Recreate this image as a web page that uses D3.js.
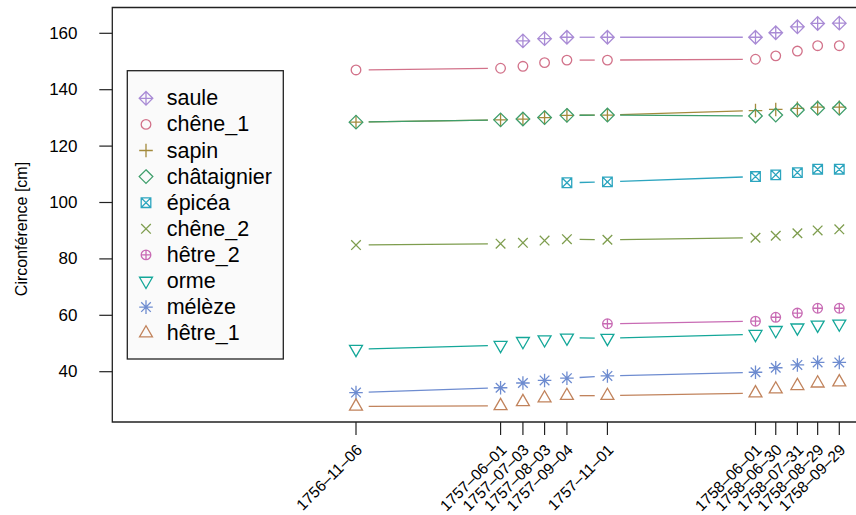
<!DOCTYPE html>
<html><head><meta charset="utf-8">
<script src="https://cdn.jsdelivr.net/npm/d3@7"></script>
<style>body{margin:0;background:#fff}svg{display:block}text{font-family:"Liberation Sans",Arial,sans-serif;fill:#000}</style>
</head><body>
<svg id="c" width="856" height="515"></svg>
<script>
const dates = ["1756-11-06","1757-06-01","1757-07-03","1757-08-03","1757-09-04","1757-11-01","1758-06-01","1758-06-30","1758-07-31","1758-08-29","1758-09-29"];
const seriesNames = ["saule","chêne_1","sapin","châtaignier","épicéa","chêne_2","hêtre_2","orme","mélèze","hêtre_1"];
const saule      = [null,null,157.3,158.1,158.6,158.6,158.6,160.2,162.3,163.5,163.6];
const chene1     = [147.0,147.6,148.3,149.6,150.5,150.5,150.8,152.0,153.7,155.6,155.6];
const sapin      = [128.5,129.3,129.6,130.1,130.9,131.0,132.6,133.0,133.4,133.8,133.8];
const chataignier= [128.5,129.3,129.6,130.1,130.9,131.0,130.7,131.0,132.8,133.4,133.4];
const epicea     = [null,null,null,null,107.0,107.3,109.2,109.8,110.6,111.8,111.8];
const chene2     = [84.9,85.4,85.7,86.5,87.0,86.8,87.5,88.2,89.1,90.1,90.5];
const hetre2     = [null,null,null,null,null,57.0,57.9,59.3,60.8,62.5,62.5];
const orme       = [48.0,49.4,50.8,51.4,52.0,51.9,53.3,54.7,55.6,56.6,57.0];
const meleze     = [32.6,34.3,36.0,36.9,37.7,38.5,39.8,41.4,42.4,43.3,43.3];
const hetre1     = [27.7,27.9,29.3,30.6,31.5,31.5,32.4,33.8,35.0,35.9,36.3];
const yTicks = [40,60,80,100,120,140,160];
const colors = ["#A98BD5","#D2728A","#A38A3C","#3E9E6B","#2CA5BF","#7E9D4E","#C86BB4","#14A799","#6E8CD0","#C1835C"];
const shapes = ["diamondplus","circle","plus","diamond","squarex","cross","circleplus","tridown","asterisk","triup"];
const values = [saule,chene1,sapin,chataignier,epicea,chene2,hetre2,orme,meleze,hetre1];

const svg = d3.select("#c");
const parse = d3.utcParse("%Y-%m-%d");
const D = dates.map(parse);
const x = d3.scaleUtc().domain([D[0], D[D.length-1]]).range([356, 839.3]);
const y = d3.scaleLinear().domain([40,160]).range([371.7, 33.3]);
const frame = {l:112.3, t:7.5, r:880, b:422};
const XC = 4.8, GAP = 12.7;

function sym(g, type, cx, cy, col){
  const p = d3.path(), s2 = Math.SQRT2*XC;
  const line=(a,b,c,d)=>{p.moveTo(a,b);p.lineTo(c,d);};
  const circ=(r)=>{p.moveTo(cx+r,cy);p.arc(cx,cy,r,0,2*Math.PI);};
  const diam=(h)=>{p.moveTo(cx,cy-h);p.lineTo(cx+h,cy);p.lineTo(cx,cy+h);p.lineTo(cx-h,cy);p.closePath();};
  switch(type){
    case "circle": circ(XC); break;
    case "plus": line(cx-s2,cy,cx+s2,cy); line(cx,cy-s2,cx,cy+s2); break;
    case "cross": line(cx-XC,cy-XC,cx+XC,cy+XC); line(cx-XC,cy+XC,cx+XC,cy-XC); break;
    case "diamond": diam(s2); break;
    case "diamondplus": diam(s2); line(cx-s2,cy,cx+s2,cy); line(cx,cy-s2,cx,cy+s2); break;
    case "squarex": p.rect(cx-XC,cy-XC,2*XC,2*XC); line(cx-XC,cy-XC,cx+XC,cy+XC); line(cx-XC,cy+XC,cx+XC,cy-XC); break;
    case "circleplus": circ(XC); line(cx-XC,cy,cx+XC,cy); line(cx,cy-XC,cx,cy+XC); break;
    case "asterisk": line(cx-XC,cy-XC,cx+XC,cy+XC); line(cx-XC,cy+XC,cx+XC,cy-XC); line(cx-s2,cy,cx+s2,cy); line(cx,cy-s2,cx,cy+s2); break;
    case "triup": { const r=1.5551*XC, xc=1.3468*XC, yc=0.7776*XC;
      p.moveTo(cx,cy-r); p.lineTo(cx+xc,cy+yc); p.lineTo(cx-xc,cy+yc); p.closePath(); break; }
    case "tridown": { const r=1.5551*XC, xc=1.3468*XC, yc=0.7776*XC;
      p.moveTo(cx,cy+r); p.lineTo(cx+xc,cy-yc); p.lineTo(cx-xc,cy-yc); p.closePath(); break; }
  }
  g.append("path").attr("d",p.toString()).attr("fill","none").attr("stroke",col).attr("stroke-width",1.3);
}

// frame
svg.append("path").attr("d",`M${frame.r},${frame.t}H${frame.l}V${frame.b}H${frame.r}`)
  .attr("fill","none").attr("stroke","#222").attr("stroke-width",1.3);

// y axis
const ya = svg.append("g");
yTicks.forEach(v=>{
  ya.append("line").attr("x1",frame.l-13).attr("x2",frame.l).attr("y1",y(v)).attr("y2",y(v)).attr("stroke","#222").attr("stroke-width",1.2);
  ya.append("text").attr("x",77.5).attr("y",y(v)).attr("text-anchor","end").attr("dominant-baseline","central")
    .style("font-size","17px").text(v);
});
svg.append("text").attr("transform",`translate(21,229) rotate(-90)`)
  .attr("text-anchor","middle").attr("dominant-baseline","central").style("font-size","16px").text("Circonférence [cm]");

// x axis
const xa = svg.append("g");
D.forEach((d,i)=>{
  const px = x(d);
  xa.append("line").attr("x1",px).attr("x2",px).attr("y1",frame.b).attr("y2",frame.b+13).attr("stroke","#222").attr("stroke-width",1.2);
  xa.append("text").attr("transform",`translate(${px+7},${frame.b+29}) rotate(-45)`)
    .attr("text-anchor","end").style("font-size","15.5px").text(dates[i].replace(/-/g,"–"));
});

// series
const gS = svg.append("g");
values.forEach((vals,k)=>{
  const col = colors[k];
  const pts = vals.map((v,i)=> v==null?null:[x(D[i]), y(v)]);
  for(let i=0;i<pts.length-1;i++){
    const a=pts[i], b=pts[i+1];
    if(!a||!b) continue;
    const dx=b[0]-a[0], dy=b[1]-a[1], dd=Math.hypot(dx,dy);
    if(dd<=2*GAP) continue;
    const ux=dx/dd, uy=dy/dd;
    gS.append("line").attr("x1",a[0]+ux*GAP).attr("y1",a[1]+uy*GAP).attr("x2",b[0]-ux*GAP).attr("y2",b[1]-uy*GAP)
      .attr("stroke",col).attr("stroke-width",1.3);
  }
  pts.forEach(p=>{ if(p) sym(gS, shapes[k], p[0], p[1], col); });
});

// legend
const lg = svg.append("g");
lg.append("rect").attr("x",127.3).attr("y",70.7).attr("width",156).attr("height",288.3)
  .attr("fill","#fafafa").attr("stroke","#222").attr("stroke-width",1.3);
seriesNames.forEach((n,k)=>{
  const ly = 98.3 + k*26.1;
  sym(lg, shapes[k], 146, ly, colors[k]);
  lg.append("text").attr("x",166.7).attr("y",ly).attr("dominant-baseline","central").style("font-size","21.5px").text(n);
});
</script>
</body></html>
